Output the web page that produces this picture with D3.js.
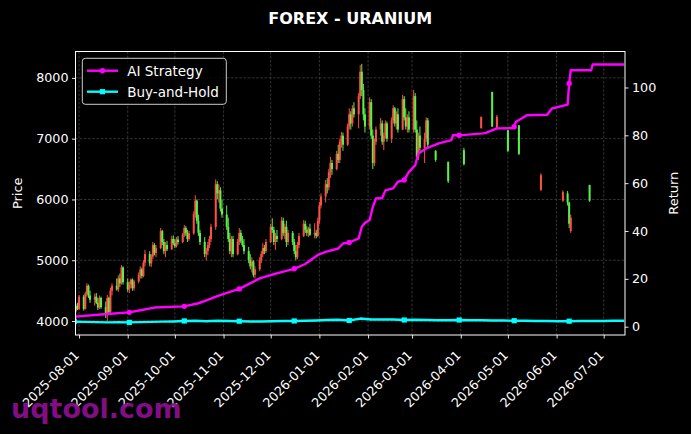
<!DOCTYPE html>
<html><head><meta charset="utf-8">
<script src="https://cdn.jsdelivr.net/npm/d3@7"></script>
<style>html,body{margin:0;padding:0;background:#000;}svg{display:block;}</style>
</head><body><svg id="c" width="691" height="434"></svg>
<script>
// ---------------- DATA ----------------
const title = "FOREX - URANIUM";
const priceTicks = [4000, 5000, 6000, 7000, 8000];
const returnTicks = [0, 20, 40, 60, 80, 100];
const monthTicks = ["2025-08-01","2025-09-01","2025-10-01","2025-11-01","2025-12-01","2026-01-01",
  "2026-02-01","2026-03-01","2026-04-01","2026-05-01","2026-06-01","2026-07-01"];

// dense daily candles: every weekday from denseStart to denseEnd
const denseStart = "2025-07-30", denseEnd = "2026-03-11";
const opens = [
 4160,4250,4200,
 4400,4200,4450,4580,4420, 4350,4400,4300,4220,4380, 4230,4100,4380,4150,4500, 4580,4520,4700,4620,4880,
 4640,4520,4600,4680,4540, 4650,4760,4850,4740,4960, 5100,4950,5060,5250,5120, 5200,5480,5300,5150,5250,
 5180,5350,5280,5230,5340, 5300,5420,5530,5450,5350, 5440,5760,5980,5650,5450, 5300,5100,5150,5250,5350,
 5550,6250,6100,6150,5850, 5750,5550,5350,5150,5350, 5100,5300,5450,5320,5250, 5150,5000,4900,4980,4760,
 4850,5000,5100,5200,5150, 5300,5550,5500,5300,5400, 5350,5650,5450,5550,5300, 5450,5300,5150,5050,5250,
 5400,5600,5500,5450,5520, 5420,5450,5400,5650,5900, 6050,6250,6200,6450,6600, 6500,6750,6650,6950,7050,
 6900,7200,7400,7250,7500, 7400,7700,8100,7800,7400, 7200,7600,7050,6600,6950, 7150,7250,6950,7050,7250,
 7000,7300,7500,7250,7400, 7150,7650,7350,7200,7350, 7150,7700,7150,6700,7050,
 6850,7000,7300];
const highs = [
 4280,4300,4430,
 4430,4480,4620,4600,4500, 4450,4460,4380,4420,4400, 4320,4430,4400,4550,4620, 4700,4750,4780,4920,4900,
 4700,4650,4700,4700,4680, 4800,4900,4880,5000,5170, 5150,5100,5300,5280,5250, 5530,5500,5350,5300,5320,
 5400,5410,5350,5380,5400, 5450,5580,5560,5500,5480, 5800,6070,6000,5750,5500, 5380,5200,5300,5400,5600,
 6330,6300,6250,6200,6000, 5900,5700,5450,5400,5400, 5350,5530,5500,5400,5350, 5220,5100,5050,5000,4900,
 5050,5150,5280,5250,5350, 5600,5690,5550,5450,5500, 5710,5700,5600,5650,5500, 5480,5350,5250,5300,5450,
 5660,5650,5560,5550,5600, 5610,5500,5700,5960,6100, 6320,6350,6500,6700,6650, 6800,6900,7000,7110,7100,
 7250,7500,7450,7550,7600, 7750,8210,8230,7900,7500, 7680,7650,7150,7000,7200, 7340,7300,7100,7300,7280,
 7350,7550,7520,7450,7500, 7720,7700,7500,7400,7450, 7800,7750,7300,7100,7200,
 7100,7350,7340];
const lows = [
 4140,4180,4180,
 4170,4190,4400,4380,4300, 4250,4280,4180,4200,4200, 4050,3990,4100,4130,4420, 4500,4480,4560,4600,4600,
 4480,4460,4540,4500,4500, 4620,4700,4700,4720,4900, 4900,4890,5020,5080,5050, 5180,5250,5100,5050,5150,
 5170,5250,5200,5210,5260, 5280,5380,5400,5300,5320, 5420,5700,5600,5400,5250, 5050,5000,5080,5200,5300,
 5500,6000,5950,5800,5700, 5500,5300,5100,5050,5050, 5080,5250,5280,5220,5100, 4950,4850,4800,4720,4700,
 4820,4950,5050,5100,5120, 5280,5450,5250,5170,5300, 5330,5400,5350,5220,5250, 5250,5100,5000,5020,5200,
 5380,5450,5400,5380,5400, 5360,5360,5380,5600,5850, 5950,6100,6150,6350,6400, 6480,6600,6600,6850,6800,
 6880,7150,7150,7200,7350, 7170,7650,7700,7300,7100, 7150,7000,6500,6550,6900, 7050,6900,6810,7000,6950,
 6930,7250,7200,7150,7100, 7140,7300,7150,7100,7100, 7100,7100,6650,6650,6800,
 6600,6950,6860];
const closes = [
 4250,4200,4400,
 4200,4450,4580,4420,4350, 4400,4300,4220,4380,4230, 4100,4380,4150,4500,4580, 4520,4700,4620,4880,4640,
 4520,4600,4680,4540,4650, 4760,4850,4740,4960,5100, 4950,5060,5250,5120,5200, 5480,5300,5150,5250,5180,
 5350,5280,5230,5340,5300, 5420,5530,5450,5350,5440, 5760,5980,5650,5450,5300, 5100,5150,5250,5350,5550,
 6250,6100,6150,5850,5750, 5550,5350,5150,5350,5100, 5300,5450,5320,5250,5150, 5000,4900,4980,4760,4850,
 5000,5100,5200,5150,5300, 5550,5500,5300,5400,5350, 5650,5450,5550,5300,5450, 5300,5150,5050,5250,5400,
 5600,5500,5450,5520,5420, 5450,5400,5650,5900,6050, 6250,6200,6450,6600,6500, 6750,6650,6950,7050,6900,
 7200,7400,7250,7500,7400, 7700,8100,7800,7400,7200, 7600,7050,6600,6950,7150, 7250,6950,7050,7250,7000,
 7300,7500,7250,7400,7150, 7650,7350,7200,7350,7150, 7700,7150,6700,7050,6850,
 7000,7300,6900];

// sparse candles after mid-March
const sparseDates = ["2026-03-16","2026-03-24","2026-04-03","2026-04-14","2026-04-21","2026-04-24",
  "2026-05-01","2026-05-08","2026-05-22","2026-06-05","2026-06-08","2026-06-09","2026-06-10","2026-06-22"];
const sparseOpens  = [6800,6620,6810,7170,7770,7170,7140,7220,6150,5980,6100,5950,5480,6240];
const sparseHighs  = [6810,6620,6850,7360,7770,7390,7140,7220,6430,6150,6140,5960,5750,6240];
const sparseLows   = [6620,6270,6560,7170,7190,7150,6780,6730,6150,5960,5900,5530,5450,5960];
const sparseCloses = [6650,6300,6580,7360,7200,7360,6800,6750,6400,6120,5950,5600,5700,5980];

// AI strategy return (sampled where the curve changes)
const aiDates = ["2025-07-29","2025-08-19","2025-09-02","2025-09-10","2025-09-18","2025-10-07","2025-10-16",
  "2025-10-22","2025-10-28","2025-11-07","2025-11-11","2025-11-24","2025-12-01","2025-12-09","2025-12-16",
  "2025-12-23","2025-12-31","2026-01-05","2026-01-13","2026-01-16","2026-01-20","2026-01-26","2026-01-28",
  "2026-01-30","2026-02-02","2026-02-04","2026-02-06","2026-02-10","2026-02-12","2026-02-17","2026-02-20",
  "2026-02-24","2026-02-27","2026-03-03","2026-03-05","2026-03-10","2026-03-18","2026-03-26","2026-03-27",
  "2026-03-31","2026-04-15","2026-04-17","2026-04-24","2026-05-04","2026-05-05","2026-05-06","2026-05-13",
  "2026-05-26","2026-05-29","2026-06-08","2026-06-09","2026-06-10","2026-06-23","2026-06-24","2026-07-14"];
const aiStrategy = [4.2,5.3,6.0,7.0,8.0,8.5,9.8,
  11.2,12.8,15.0,15.8,20.2,21.6,23.0,24.2,
  26.2,30.0,31.3,32.7,34.8,35.2,36.9,41.8,
  43.4,44.6,50.0,53.6,53.8,57.0,57.8,60.6,
  61.3,64.7,67.5,72.4,74.5,76.6,78.0,80.0,
  80.0,80.8,81.0,82.9,83.0,83.6,85.6,88.4,
  88.6,91.2,92.8,101.7,107.2,107.2,109.6,109.6];

// Buy-and-hold return, weekly
const bhStart = "2025-07-29", bhEnd = "2026-07-14";
const buyHold = [2.1,2.0,1.9,1.8,1.9, 1.8,1.9,2.0,2.1,2.2, 2.4,2.5,2.3,2.5,2.4,
  2.3,2.2,2.2,2.3,2.4, 2.4,2.5,2.6,2.8,2.9, 2.6,3.4,3.0,3.0,3.0,
  2.8,2.9,2.8,2.7,2.7, 2.8,2.7,2.7,2.6,2.6, 2.5,2.5,2.4,2.4,2.3,
  2.3,2.4,2.4,2.4,2.5, 2.5];
const markerDates = ["2025-07-29","2025-09-02","2025-10-07","2025-11-11","2025-12-16","2026-01-20",
  "2026-02-24","2026-03-31","2026-05-05","2026-06-09"];
const seriesNames = ["AI Strategy", "Buy-and-Hold"];
const watermark = "uqtool.com";

// ---------------- CHART ----------------
const W = 691, H = 434;
const M = {l: 75.5, r: 625, t: 51.5, b: 335};
const FONT = "DejaVu Sans, Verdana, sans-serif";
const UP = "#ff5046", DOWN = "#5cf04a", MAG = "#ff00ff", CYA = "#00ffff";
const parse = d3.utcParse("%Y-%m-%d");

const svg = d3.select("#c").style("font-family", FONT);
svg.append("rect").attr("width", W).attr("height", H).attr("fill", "#000");

const x = d3.scaleUtc().domain([Date.UTC(2025,6,29,18), Date.UTC(2026,6,14,13)]).range([M.l, M.r]);
const yL = d3.scaleLinear().domain([3770, 8434]).range([M.b, M.t]);
const yR = d3.scaleLinear().domain([-3.47, 115.04]).range([M.b, M.t]);

// candles
const denseDates = d3.utcDay.range(parse(denseStart), d3.utcDay.offset(parse(denseEnd), 1))
  .filter(d => d.getUTCDay() !== 0 && d.getUTCDay() !== 6);
const candles = denseDates.map((d, i) => ({d, o: opens[i], h: highs[i], l: lows[i], c: closes[i]}))
  .concat(sparseDates.map((s, i) => ({d: parse(s), o: sparseOpens[i], h: sparseHighs[i], l: sparseLows[i], c: sparseCloses[i]})));

const bhDates = d3.utcDay.range(parse(bhStart), d3.utcDay.offset(parse(bhEnd), 1), 7);
const markerSet = new Set(markerDates);
const fmt = d3.utcFormat("%Y-%m-%d");

svg.append("clipPath").attr("id", "clip").append("rect")
  .attr("x", M.l).attr("y", M.t).attr("width", M.r - M.l).attr("height", M.b - M.t);

// grid
const grid = svg.append("g").attr("stroke", "#4a4a4a").attr("stroke-width", 0.7).attr("stroke-dasharray", "2.6,1.6");
monthTicks.forEach(t => grid.append("line").attr("x1", x(parse(t))).attr("x2", x(parse(t))).attr("y1", M.t).attr("y2", M.b));
priceTicks.forEach(t => grid.append("line").attr("x1", M.l).attr("x2", M.r).attr("y1", yL(t)).attr("y2", yL(t)));

const plot = svg.append("g").attr("clip-path", "url(#clip)");
const cg = plot.append("g");
candles.forEach(k => {
  const col = k.c >= k.o ? UP : DOWN;
  const cx = x(k.d);
  cg.append("line").attr("x1", cx).attr("x2", cx).attr("y1", yL(k.h)).attr("y2", yL(k.l))
    .attr("stroke", col).attr("stroke-width", 1);
  const y0 = yL(Math.max(k.o, k.c)), y1 = yL(Math.min(k.o, k.c));
  cg.append("rect").attr("x", cx - 1).attr("width", 2).attr("y", y0).attr("height", Math.max(0.8, y1 - y0))
    .attr("fill", col);
});

// AI strategy line
const aiPts = aiDates.map((s, i) => ({s, d: parse(s), v: aiStrategy[i]}));
plot.append("path").attr("d", d3.line().x(p => x(p.d)).y(p => yR(p.v))(aiPts))
  .attr("fill", "none").attr("stroke", MAG).attr("stroke-width", 2.4).attr("stroke-linejoin", "round");
plot.append("g").selectAll("circle").data(aiPts.filter(p => markerSet.has(p.s))).join("circle")
  .attr("cx", p => x(p.d)).attr("cy", p => yR(p.v)).attr("r", 2.7).attr("fill", MAG);

// Buy-and-hold line
const bhPts = bhDates.map((d, i) => ({s: fmt(d), d, v: buyHold[i]}));
plot.append("path").attr("d", d3.line().x(p => x(p.d)).y(p => yR(p.v))(bhPts))
  .attr("fill", "none").attr("stroke", CYA).attr("stroke-width", 2.4).attr("stroke-linejoin", "round");
plot.append("g").selectAll("rect").data(bhPts.filter(p => markerSet.has(p.s))).join("rect")
  .attr("x", p => x(p.d) - 2.6).attr("y", p => yR(p.v) - 2.6).attr("width", 5.2).attr("height", 5.2).attr("fill", CYA);

// spines
svg.append("rect").attr("x", M.l).attr("y", M.t).attr("width", M.r - M.l).attr("height", M.b - M.t)
  .attr("fill", "none").attr("stroke", "#fff").attr("stroke-width", 1);

function styleAxis(g) {
  g.select(".domain").remove();
  g.selectAll(".tick line").attr("stroke", "#fff").attr("stroke-width", 0.9);
  g.selectAll(".tick text").attr("fill", "#fff").style("font-size", "12.7px").style("font-family", FONT);
}
svg.append("g").attr("transform", `translate(${M.l},0)`)
  .call(d3.axisLeft(yL).tickValues(priceTicks).tickSize(3.5).tickPadding(3.5).tickFormat(d3.format("d")))
  .call(styleAxis);
svg.append("g").attr("transform", `translate(${M.r},0)`)
  .call(d3.axisRight(yR).tickValues(returnTicks).tickSize(3.5).tickPadding(3.5).tickFormat(d3.format("d")))
  .call(styleAxis);
const xg = svg.append("g").attr("transform", `translate(0,${M.b})`)
  .call(d3.axisBottom(x).tickValues(monthTicks.map(parse)).tickSize(3.5).tickFormat(d3.utcFormat("%Y-%m-%d")))
  .call(styleAxis);
xg.selectAll(".tick text").attr("text-anchor", "end").attr("y", null).attr("dy", null)
  .attr("transform", "translate(0.5,21) rotate(-45)");

// axis labels
svg.append("text").attr("transform", `translate(22,${(M.t + M.b) / 2}) rotate(-90)`).attr("text-anchor", "middle")
  .attr("fill", "#fff").style("font-size", "13px").text("Price");
svg.append("text").attr("transform", `translate(678,${(M.t + M.b) / 2}) rotate(-90)`).attr("text-anchor", "middle")
  .attr("fill", "#fff").style("font-size", "13px").text("Return");

// title
svg.append("text").attr("x", (M.l + M.r) / 2).attr("y", 24).attr("text-anchor", "middle")
  .attr("fill", "#fff").style("font-size", "16px").style("font-weight", "bold").text(title);

// legend
const lg = svg.append("g");
lg.append("rect").attr("x", 82.3).attr("y", 58.3).attr("width", 144).attr("height", 46).attr("rx", 3)
  .attr("fill", "#000").attr("fill-opacity", 0.8).attr("stroke", "#cccccc").attr("stroke-width", 1);
[[MAG, 70.7, "c"], [CYA, 91.7, "s"]].forEach((e, i) => {
  lg.append("line").attr("x1", 87).attr("x2", 118).attr("y1", e[1]).attr("y2", e[1]).attr("stroke", e[0]).attr("stroke-width", 2.4);
  if (e[2] === "c") lg.append("circle").attr("cx", 102.5).attr("cy", e[1]).attr("r", 2.7).attr("fill", e[0]);
  else lg.append("rect").attr("x", 99.9).attr("y", e[1] - 2.6).attr("width", 5.2).attr("height", 5.2).attr("fill", e[0]);
  lg.append("text").attr("x", 127.3).attr("y", e[1] + 5).attr("fill", "#fff").style("font-size", "13.5px").text(seriesNames[i]);
});

// watermark
svg.append("text").attr("x", 11).attr("y", 418).attr("fill", "#8a0f8e").attr("fill-opacity", 0.95)
  .style("font-size", "27px").style("font-weight", "bold").text(watermark);
</script></body></html>
